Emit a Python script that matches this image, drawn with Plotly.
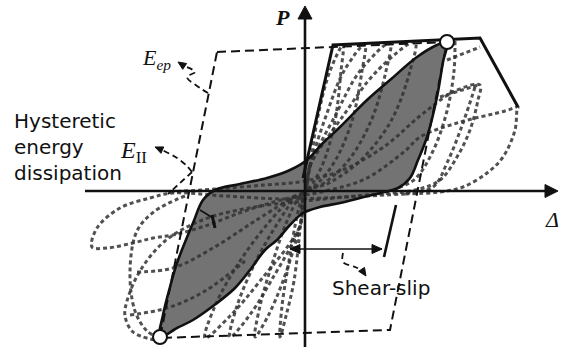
import math
import plotly.graph_objects as go

# ---- force (P) vs displacement (Δ) data -------------------------------------
# backbone envelope of the measured response
envelope_d = [-2, 28, 175, 213]
envelope_p = [13, 146, 153, 84]

# elasto-plastic idealisation (E_ep), closed
ep_d = [-88, 142, 85, -145, -88]
ep_p = [139, 149, -139, -147, 139]

# pinched loop that encloses the dissipated energy
loop_upper_d = [142, 132, 112, 85, 62, 35, 18, 2, -15, -38, -65, -90, -102, -112, -128, -135, -142, -145]
loop_upper_p = [149, 146, 134, 111, 91, 64, 48, 31, 21, 13, 7, 1, -9, -32, -72, -96, -124, -146]
loop_lower_d = [-145, -128, -112, -88, -70, -55, -40, -28, -15, -2, 15, 35, 55, 75, 93, 105, 113, 122, 132, 138, 142]
loop_lower_p = [-146, -137, -129, -112, -97, -79, -59, -49, -34, -22, -16, -12, -7, -2, 3, 13, 31, 54, 94, 129, 149]

# early test cycles (pre-peak)
cycle1_d = [0, 5, 13, 25, 38, 36, 30, 19, 8, 0, -4, -11, -19, -25, -23, -16, -9, -3, 0]
cycle1_p = [0, 25, 75, 120, 146, 120, 70, 30, 8, -2, -30, -90, -125, -146, -115, -70, -30, -6, 0]
cycle2_d = [0, 5, 21, 39, 60, 57, 47, 30, 13, 0, -5, -22, -37, -50, -45, -32, -18, -6, 0]
cycle2_p = [0, 25, 75, 120, 147, 120, 70, 30, 8, -2, -35, -90, -125, -146, -115, -70, -30, -6, 0]
cycle3_d = [0, 5, 30, 55, 85, 81, 66, 43, 19, 0, -5, -34, -56, -75, -68, -49, -26, -9, 0]
cycle3_p = [0, 25, 75, 120, 148, 120, 70, 30, 8, -2, -35, -90, -125, -146, -115, -70, -30, -6, 0]
cycle4_d = [0, 5, 38, 72, 110, 105, 86, 55, 24, 0, -5, -45, -75, -100, -90, -65, -35, -12, 0]
cycle4_p = [0, 25, 75, 120, 149, 120, 70, 30, 8, -2, -35, -90, -125, -147, -115, -70, -30, -6, 0]

# post-peak cycles with strength degradation
cycle5_d = [-135, -90, -40, 0, 40, 80, 115, 150, 175, 173, 165, 152, 135, 110, 60, 0, -50, -100, -140, -165, -178, -180, -172, -150]
cycle5_p = [-1, 2, 6, 10, 22, 45, 75, 100, 106, 91, 61, 34, 11, 1, -4, -10, -16, -28, -50, -80, -110, -125, -141, -149]
cycle6_d = [135, 100, 40, -20, -80, -132, -155, -185, -208, -213, -198, -172, -152, -132, -100, -60, -20, 20, 60, 100, 115, 152, 200, 213, 212, 210, 198, 182, 158, 135]
cycle6_p = [-1, -3, -6, -8, -5, -2, -7, -17, -37, -56, -57, -52, -47, -44, -35, -20, -8, 0, 12, 40, 54, 68, 80, 84, 81, 61, 34, 18, 4, -1]
cycle7_d = [-120, -150, -168, -175, -170, -158, -145]
cycle7_p = [-5, -20, -40, -80, -120, -140, -147]
reload1_d = [-168, -132, -92, -50, -10]
reload1_p = [-81, -77, -57, -30, -5]
reload2_d = [-175, -138, -100, -60]
reload2_p = [-124, -117, -100, -70]
unload1_d = [150, 149, 142, 128, 110, 90]
unload1_p = [150, 120, 80, 40, 12, 2]
unload2_d = [170, 158, 142, 128, 100]
unload2_p = [104, 68, 28, 4, -2]
reload3_d = [135, 173]
reload3_p = [94, 106]
reload4_d = [142, 175]
reload4_p = [131, 144]

# axis extent and annotation marks
axis_d = [-220, 248]
axis_p = [-156, 180]
slip_tick_d = [91, 79]
slip_tick_p = [-14, -66]
slip_span_d = [-15, 77]
slip_level_p = -58

# dashed leaders (last point is the arrow tip)
lead_ep_d = [-97, -105, -118, -110, -121, -127]
lead_ep_p = [98, 103, 114, 119, 125, 129]
lead_ii_d = [-113, -118, -128, -143, -150]
lead_ii_p = [19, 25, 33, 41, 44]
lead_slip_d = [38, 38, 50, 57, 61]
lead_slip_p = [-62, -71, -76, -79, -85]

X_RANGE = [-305, 256]
Y_RANGE = [-160, 191]

fig = go.Figure()

INK = "#111111"
DOT = "rgba(50,50,50,0.85)"
DOT_DASH = "4px,3px"


def line(d, p, color=INK, width=2.0, dash="solid", shape="linear", fill=None, fillcolor=None):
    fig.add_trace(go.Scatter(
        x=d, y=p, mode="lines", hoverinfo="skip",
        line=dict(color=color, width=width, dash=dash, shape=shape),
        fill=fill, fillcolor=fillcolor,
    ))


def head(tip_d, tip_p, from_d, from_p, length, width):
    """Filled arrow head whose tip sits at (tip_d, tip_p), pointing away from (from_d, from_p)."""
    ux, uy = tip_d - from_d, tip_p - from_p
    n = math.hypot(ux, uy)
    ux, uy = ux / n, uy / n
    bx, by = tip_d - ux * length, tip_p - uy * length
    px, py = -uy * width / 2, ux * width / 2
    fig.add_trace(go.Scatter(
        x=[tip_d, bx + px, bx - px, tip_d], y=[tip_p, by + py, by - py, tip_p],
        mode="lines", fill="toself", fillcolor=INK, hoverinfo="skip",
        line=dict(color=INK, width=1),
    ))


# shaded hysteretic loop
loop_d = loop_upper_d + loop_lower_d[1:]
loop_p = loop_upper_p + loop_lower_p[1:]
line(loop_d, loop_p, color="rgba(0,0,0,0)", width=0, shape="spline",
     fill="toself", fillcolor="#737373")

# dotted test cycles
for d, p in [(cycle1_d, cycle1_p), (cycle2_d, cycle2_p), (cycle3_d, cycle3_p),
             (cycle4_d, cycle4_p), (cycle5_d, cycle5_p), (cycle6_d, cycle6_p),
             (cycle7_d, cycle7_p), (reload1_d, reload1_p), (reload2_d, reload2_p),
             (unload1_d, unload1_p), (unload2_d, unload2_p),
             (reload3_d, reload3_p), (reload4_d, reload4_p)]:
    line(d, p, color=DOT, width=3.0, dash=DOT_DASH, shape="spline")

# elasto-plastic idealisation
line(ep_d, ep_p, color=INK, width=2.0, dash="9px,5px")

# loop outline
line(loop_d, loop_p, color=INK, width=2.6, shape="spline")

# envelope
line(envelope_d, envelope_p, color=INK, width=3.0)

# axes with arrow heads
line(axis_d, [0, 0], color=INK, width=2.6)
line([0, 0], axis_p, color=INK, width=2.6)
head(axis_d[1] + 5, 0, axis_d[0], 0, 13, 13)
head(0, axis_p[1] + 5, 0, axis_p[0], 13, 14)

# shear-slip tick, span and the small marker on the negative side
line(slip_tick_d, slip_tick_p, color=INK, width=2.6)
line(slip_span_d, [slip_level_p, slip_level_p], color=INK, width=1.6)
head(slip_span_d[1], slip_level_p, slip_span_d[0], slip_level_p, 10, 9)
head(slip_span_d[0], slip_level_p, slip_span_d[1], slip_level_p, 10, 9)
line([-93, -90], [-24, -37], color=INK, width=3.0)
line([-105, -92], [-19, -27], color=INK, width=1.5)

# dashed leader curves with heads
for d, p in [(lead_ep_d, lead_ep_p), (lead_ii_d, lead_ii_p), (lead_slip_d, lead_slip_p)]:
    line(d[:-1], p[:-1], width=1.8, dash="6px,4px", shape="spline")
    head(d[-1], p[-1], d[-2], p[-2], 8, 7)
line([-113, -137], [19, -3], width=1.8, dash="6px,4px")

# peak points
fig.add_trace(go.Scatter(
    x=[loop_upper_d[0], loop_lower_d[0]], y=[loop_upper_p[0], loop_lower_p[0]],
    mode="markers", hoverinfo="skip",
    marker=dict(size=14, color="white", line=dict(color=INK, width=2)),
))

SANS = "DejaVu Sans"
SERIF = "Liberation Serif"


def label(x, y, text, font, size, xanchor="center", yanchor="middle", align="center"):
    fig.add_annotation(x=x, y=y, xref="x", yref="y", text=text, showarrow=False,
                       xanchor=xanchor, yanchor=yanchor, align=align,
                       font=dict(family=font, size=size, color=INK))


label(-293, 44, "Hysteretic<br>energy<br>dissipation", SANS, 20, xanchor="left", align="left")
label(76, -97, "Shear-slip", SANS, 20)
label(-149, 132, "<i>E</i><sub><i>ep</i></sub>", SERIF, 22)
label(-172, 39, "<i>E</i><sub>II</sub>", SERIF, 24)
label(-23, 174, "<b><i>P</i></b>", SERIF, 22)
label(256, -28, "<i>Δ</i>", SERIF, 22, xanchor="right")

fig.update_layout(
    width=561, height=351,
    margin=dict(l=0, r=0, t=0, b=0),
    paper_bgcolor="white", plot_bgcolor="white",
    showlegend=False,
    xaxis=dict(range=X_RANGE, visible=False, fixedrange=True),
    yaxis=dict(range=Y_RANGE, visible=False, fixedrange=True),
)

fig.write_html("out.html")
